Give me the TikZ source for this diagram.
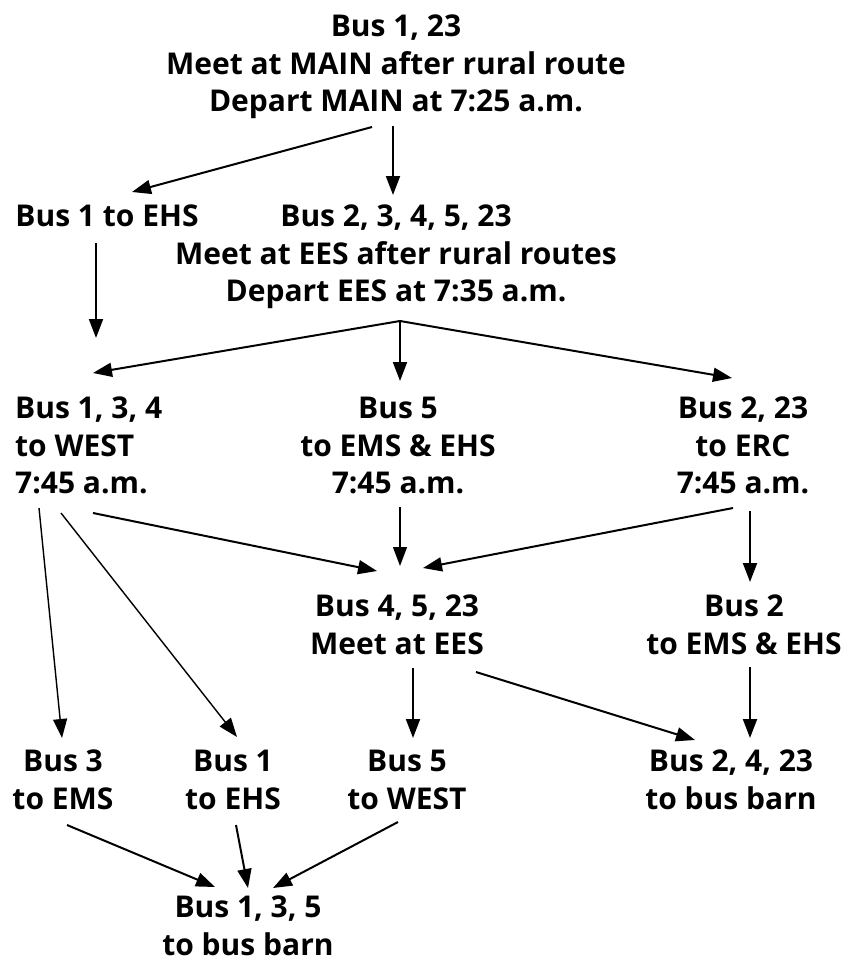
\documentclass[tikz,border=0pt]{standalone}
\usepackage{fontspec}
\setmainfont{Open Sans}
\usetikzlibrary{arrows.meta}

\begin{document}
\begin{tikzpicture}[x=1pt,y=-1pt,
  stop/.style={font=\bfseries\fontsize{30}{37.5}\selectfont,align=center,inner sep=0pt,anchor=north},
  arr/.style={-{Triangle[length=19pt,width=14pt]},line width=2pt},
  thin arr/.style={arr,line width=1.4pt}]
  \useasboundingbox (0,0) rectangle (846,964);

  % stops
  \node[stop] (main)  at (396,15)  {Bus 1, 23\\Meet at MAIN after rural route\\Depart MAIN at 7:25 a.m.};
  \node[stop] (ehs1)  at (107,205) {Bus 1 to EHS};
  \node[stop] (ees)   at (396,205) {Bus 2, 3, 4, 5, 23\\Meet at EES after rural routes\\Depart EES at 7:35 a.m.};
  \node[stop,align=left,anchor=north west] (west) at (15,397) {Bus 1, 3, 4\\to WEST\\7:45 a.m.};
  \node[stop] (ems)   at (398,397) {Bus 5\\to EMS \& EHS\\7:45 a.m.};
  \node[stop] (erc)   at (743,397) {Bus 2, 23\\to ERC\\7:45 a.m.};
  \node[stop] (meet)  at (397,595) {Bus 4, 5, 23\\Meet at EES};
  \node[stop] (bus2)  at (744,595) {Bus 2\\to EMS \& EHS};
  \node[stop] (bus3)  at (63,750)  {Bus 3\\to EMS};
  \node[stop] (bus1)  at (233,750) {Bus 1\\to EHS};
  \node[stop] (bus5)  at (407,750) {Bus 5\\to WEST};
  \node[stop] (barnR) at (731,750) {Bus 2, 4, 23\\to bus barn};
  \node[stop] (barnL) at (248,896) {Bus 1, 3, 5\\to bus barn};

  % routes
  \draw[arr] ([shift={(-24,112)}]main.north) -- ([shift={(25,-13)}]ehs1.north);
  \draw[arr] ([shift={(-3,111)}]main.north) -- ([shift={(-3,-10)}]ees.north);
  \draw[arr] ([shift={(-11,38)}]ehs1.north) -- ([shift={(81,-59)}]west.north west);
  \draw[arr] ([shift={(4,116)}]ees.north) -- ([shift={(78,-24)}]west.north west);
  \draw[arr] ([shift={(4,116)}]ees.north) -- ([shift={(2,-16)}]ems.north);
  \draw[arr] ([shift={(4,116)}]ees.north) -- ([shift={(-11,-19)}]erc.north);
  \draw[arr] ([shift={(78,116)}]west.north west) -- ([shift={(-20,-24)}]meet.north);
  \draw[thin arr] ([shift={(2,110)}]ems.north) -- ([shift={(3,-29)}]meet.north);
  \draw[arr] ([shift={(-10,111)}]erc.north) -- ([shift={(26,-27)}]meet.north);
  \draw[arr] ([shift={(7,114)}]erc.north) -- ([shift={(6,-13)}]bus2.north);
  \draw[thin arr] ([shift={(24,111)}]west.north west) -- ([shift={(-1,-12)}]bus3.north);
  \draw[thin arr] ([shift={(46,116)}]west.north west) -- ([shift={(4,-13)}]bus1.north);
  \draw[arr] ([shift={(16,73)}]meet.north) -- ([shift={(6,-12)}]bus5.north);
  \draw[arr] ([shift={(79,77)}]meet.north) -- ([shift={(-36,-10)}]barnR.north);
  \draw[arr] ([shift={(6,72)}]bus2.north) -- ([shift={(19,-12)}]barnR.north);
  \draw[arr] ([shift={(4,75)}]bus3.north) -- ([shift={(-33,-9)}]barnL.north);
  \draw[arr] ([shift={(3,75)}]bus1.north) -- ([shift={(0,-8)}]barnL.north);
  \draw[arr] ([shift={(-9,72)}]bus5.north) -- ([shift={(25,-8)}]barnL.north);
\end{tikzpicture}
\end{document}
